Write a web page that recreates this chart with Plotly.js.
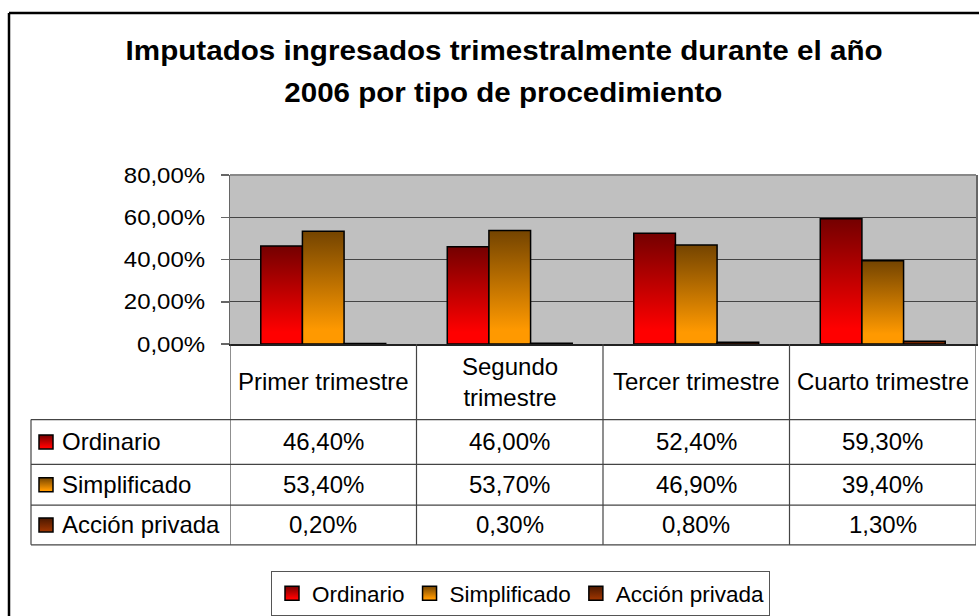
<!DOCTYPE html>
<html><head><meta charset="utf-8">
<script src="https://cdn.plot.ly/plotly-3.0.1.min.js"></script>
<style>body{margin:0;background:#fff}#chart{width:979px;height:616px}</style>
</head><body><div id="chart"></div>
<script>
// ---- data ----
const categories = ['Primer trimestre', 'Segundo trimestre', 'Tercer trimestre', 'Cuarto trimestre'];
const categoryLabels = ['Primer trimestre', 'Segundo<br>trimestre', 'Tercer trimestre', 'Cuarto trimestre'];
const seriesNames = ['Ordinario', 'Simplificado', 'Acción privada'];
const ordinario = [46.4, 46.0, 52.4, 59.3];
const simplificado = [53.4, 53.7, 46.9, 39.4];
const accionPrivada = [0.2, 0.3, 0.8, 1.3];
const yTicks = [0, 20, 40, 60, 80];
const titleLines = ['Imputados ingresados trimestralmente durante el año', '2006 por tipo de procedimiento'];

// ---- layout helpers ----
const W = 979, H = 616, L = 230, R = 976, T = 175, B = 345;
const px = x => (x - L) / (R - L);
const py = y => (B - y) / (B - T);
const FONT = '"Liberation Sans", Arial, sans-serif';
const gradients = [['#740000', '#ff0000'], ['#744400', '#ff9900'], ['#4a1800', '#993300']];
const baseColors = ['#c00000', '#cc7a00', '#702600'];
const series = [ordinario, simplificado, accionPrivada];
const fmt = v => v.toFixed(2).replace('.', ',') + '%';

const traces = series.map((vals, i) => ({
  type: 'bar', name: seriesNames[i], x: categories, y: vals,
  marker: {color: baseColors[i], line: {color: '#000', width: 1.5}},
  hoverinfo: 'skip'
}));

const gridC = '#444';
const rowY = [421, 466, 507, 547];
const rowC = [443.5, 486.5, 527];
const shapes = [];
// outer frame
shapes.push({type: 'line', xref: 'paper', yref: 'paper', x0: px(9), x1: px(9), y0: py(12), y1: py(640), line: {color: '#000', width: 2.5}});
shapes.push({type: 'line', xref: 'paper', yref: 'paper', x0: px(9), x1: px(1000), y0: py(12), y1: py(12), line: {color: '#000', width: 2.5}});
// top border of plot
shapes.push({type: 'line', xref: 'paper', yref: 'paper', x0: 0, x1: 1, y0: 1, y1: 1, line: {color: '#888', width: 2}});
// table horizontal lines
rowY.forEach(y => shapes.push({type: 'line', xref: 'paper', yref: 'paper', x0: px(31), x1: 1, y0: py(y), y1: py(y), line: {color: gridC, width: 1.2}}));
// table vertical lines
shapes.push({type: 'line', xref: 'paper', yref: 'paper', x0: px(31), x1: px(31), y0: py(421), y1: py(547), line: {color: gridC, width: 1.2}});
[-0.5, 0.5, 1.5, 2.5, 3.5].forEach(x => shapes.push({type: 'line', xref: 'x', yref: 'paper', x0: x, x1: x, y0: 0, y1: py(547), line: {color: gridC, width: 1.2}}));
// swatches
const swatchIdx = [];
seriesNames.forEach((n, i) => {
  swatchIdx.push(shapes.length);
  shapes.push({type: 'rect', xref: 'paper', yref: 'paper', x0: px(39), x1: px(53), y0: py(rowC[i] + 7), y1: py(rowC[i] - 7),
    fillcolor: baseColors[i], line: {color: '#000', width: 1.5}});
});

const annotations = [];
annotations.push({xref: 'paper', yref: 'paper', x: px(503.5), y: py(50), text: titleLines[0], showarrow: false,
  xanchor: 'center', yanchor: 'middle', font: {family: FONT, size: 27, color: '#000', weight: 700}});
annotations.push({xref: 'paper', yref: 'paper', x: px(503.5), y: py(93), text: titleLines[1], showarrow: false,
  xanchor: 'center', yanchor: 'middle', font: {family: FONT, size: 27, color: '#000', weight: 700}});
categories.forEach((c, j) => annotations.push({xref: 'x', yref: 'paper', x: c, y: py(383), text: categoryLabels[j], showarrow: false,
  xanchor: 'center', yanchor: 'middle', font: {family: FONT, size: 24, color: '#000'}}));
seriesNames.forEach((n, i) => {
  annotations.push({xref: 'paper', yref: 'paper', x: px(60), y: py(rowC[i]), text: n, showarrow: false,
    xanchor: 'left', yanchor: 'middle', font: {family: FONT, size: 24, color: '#000'}});
  series[i].forEach((v, j) => annotations.push({xref: 'x', yref: 'paper', x: categories[j], y: py(rowC[i]), text: fmt(v), showarrow: false,
    xanchor: 'center', yanchor: 'middle', font: {family: FONT, size: 24, color: '#000'}}));
});

const layout = {
  width: W, height: H,
  margin: {l: L, r: W - R, t: T, b: H - B, pad: 0},
  paper_bgcolor: '#fff', plot_bgcolor: '#c0c0c0',
  font: {family: FONT, color: '#000'},
  barmode: 'group', bargap: 0.33, bargroupgap: 0,
  showlegend: true,
  legend: {orientation: 'h', x: px(271), xanchor: 'left', y: py(571), yanchor: 'top', traceorder: 'normal',
    font: {family: FONT, size: 22.5, color: '#000'}, bgcolor: '#fff', bordercolor: '#555', borderwidth: 1, itemwidth: 30},
  xaxis: {type: 'category', showticklabels: false, ticks: '', showgrid: false, zeroline: false,
    showline: true, linecolor: '#222', linewidth: 2, range: [-0.5, 3.5], fixedrange: true},
  yaxis: {range: [0, 80], tickvals: yTicks, ticktext: yTicks.map(fmt), ticks: 'outside', ticklen: 8, tickcolor: '#666', tickwidth: 1.5,
    showgrid: true, gridcolor: gridC, gridwidth: 1, zeroline: false, showline: true, linecolor: '#666', linewidth: 1.5, mirror: true,
    tickfont: {family: FONT, size: 22, color: '#000'}, ticklabelstandoff: 11, fixedrange: true},
  shapes: shapes, annotations: annotations
};

Plotly.newPlot('chart', traces, layout, {staticPlot: true, displayModeBar: false}).then(gd => {
  const NS = 'http://www.w3.org/2000/svg';
  const svg = gd.querySelector('.main-svg');
  let defs = svg.querySelector('defs');
  if (!defs) { defs = document.createElementNS(NS, 'defs'); svg.insertBefore(defs, svg.firstChild); }
  gradients.forEach((g, i) => {
    const lg = document.createElementNS(NS, 'linearGradient');
    lg.setAttribute('id', 'grad' + i);
    lg.setAttribute('x1', '0'); lg.setAttribute('y1', '0'); lg.setAttribute('x2', '0'); lg.setAttribute('y2', '1');
    [[0, g[0]], [0.88, g[1]], [1, g[1]]].forEach(([o, c]) => {
      const s = document.createElementNS(NS, 'stop');
      s.setAttribute('offset', o); s.setAttribute('stop-color', c); lg.appendChild(s);
    });
    defs.appendChild(lg);
  });
  gd.querySelectorAll('.barlayer .trace').forEach((t, i) => t.querySelectorAll('path').forEach(p => p.style.fill = `url(#grad${i})`));
  gd.querySelectorAll('.legend .traces').forEach(t => {
    const txt = t.querySelector('.legendtext');
    const i = seriesNames.indexOf(txt ? txt.textContent : '');
    if (i >= 0) t.querySelectorAll('.legendpoints path').forEach(p => {
      p.style.fill = `url(#grad${i})`;
      p.setAttribute('d', 'M7,7H-7V-7H7Z');
    });
  });
  swatchIdx.forEach((k, i) => {
    gd.querySelectorAll(`.shapelayer path[data-index="${k}"]`).forEach(p => p.style.fill = `url(#grad${i})`);
  });
  const stretchTo = (el, len) => { el.setAttribute('textLength', len.toFixed(1)); el.setAttribute('lengthAdjust', 'spacingAndGlyphs'); };
  gd.querySelectorAll('.ytick text').forEach(t => stretchTo(t, t.getComputedTextLength() * 1.09));
  const titleWidths = [757, 438];
  [0, 1].forEach(k => {
    const a = gd.querySelector(`.annotation[data-index="${k}"] text.annotation-text`);
    if (a) stretchTo(a, titleWidths[k]);
  });
});
</script></body></html>
